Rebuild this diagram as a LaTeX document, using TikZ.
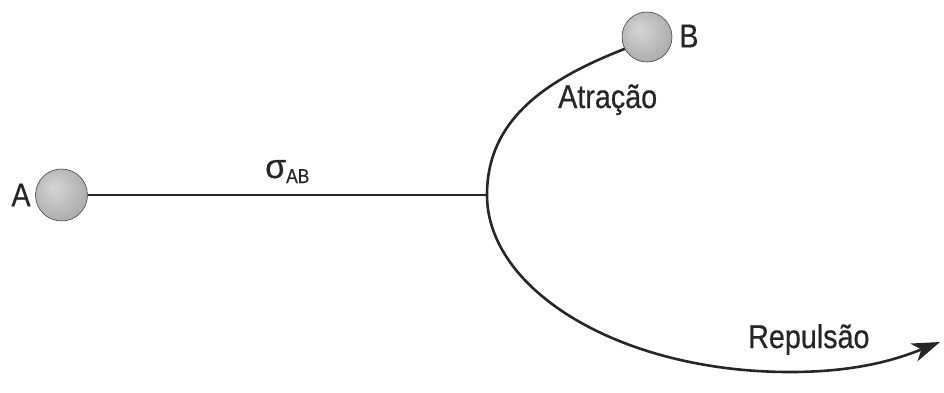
\documentclass[tikz,border=0pt]{standalone}
\usepackage{fontspec}
\setmainfont{Liberation Sans}[FakeStretch=0.87,FakeBold=0.5]
\newfontfamily\sigmafont{Liberation Sans}[FakeBold=0.5]
\usetikzlibrary{arrows.meta}
\pgfdeclareradialshading{myball}{\pgfpoint{-8bp}{8bp}}{color(0bp)=(gray!32); color(14bp)=(gray!48); color(30bp)=(gray!66); color(42bp)=(gray!82); color(50bp)=(gray!92)}
\begin{document}
\begin{tikzpicture}[x=1pt,y=-1pt,
  lbl/.style={inner sep=0pt, font=\fontsize{33}{33}\selectfont, text=black!85},
  sphere/.style={circle, minimum size=52pt, inner sep=0pt, shading=myball, draw=gray!55!black, line width=0.6pt},
  bond/.style={line width=2.6pt, draw=black!85}]
\useasboundingbox (0,0) rectangle (944,392);
\node[sphere] (A) at (61.5,195) {};
\node[sphere, minimum size=50pt] (B) at (647,37) {};
\coordinate (C) at (487,195);
\coordinate (E) at (790,372);
\coordinate (T) at (940,342);
\draw[bond] (A.east) -- (C);
\draw[bond] (C) .. controls (487,120) and (545,80) .. (B.208);
\draw[bond, -{Stealth[length=28pt,width=19pt,inset=8pt]}] (C) .. controls (487,290) and (620,372) .. (E) .. controls (860,372) and (900,358) .. (T);
\node[lbl] (la) at (21,195) {A};
\node[lbl] (lb) at (689,36) {B};
\node[lbl, anchor=base west] (lat) at (558,108) {Atração};
\node[lbl, anchor=base west] (lrep) at (748,348) {Repulsão};
\node[lbl, anchor=base west] (lsig) at (265,178) {{\sigmafont\fontsize{34}{34}\selectfont σ}{\fontsize{20}{20}\selectfont\raisebox{-5pt}{AB}}};
\end{tikzpicture}
\end{document}
